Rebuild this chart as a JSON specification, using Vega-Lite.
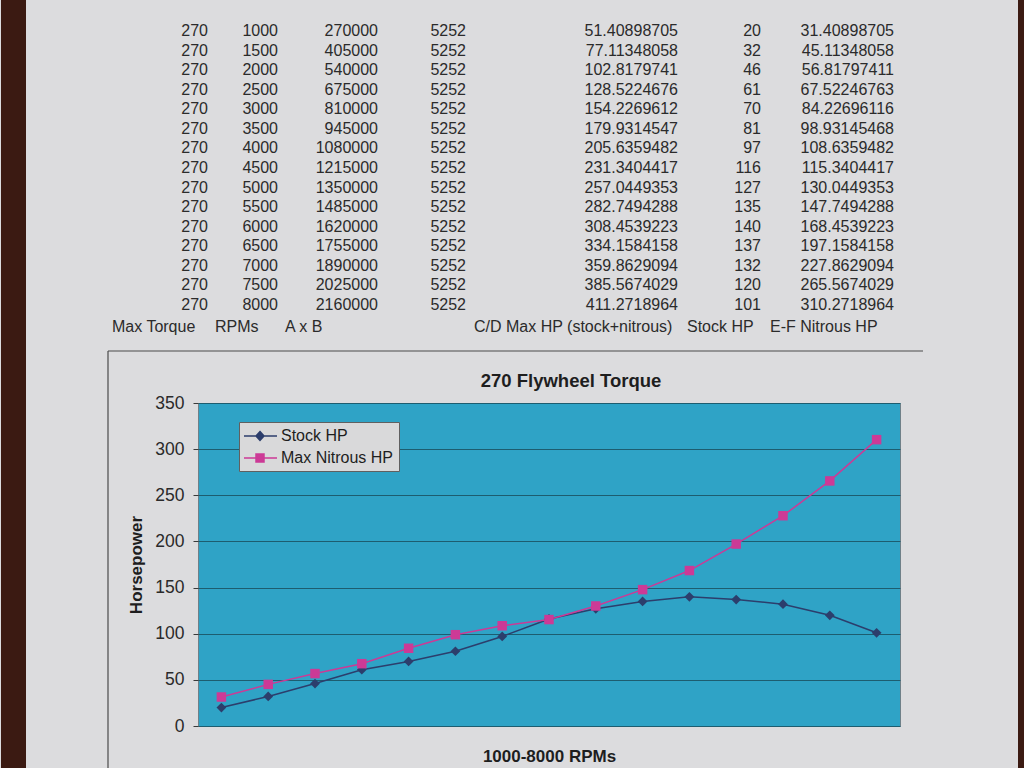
{
  "$schema": "https://vega.github.io/schema/vega-lite/v6.json",
  "background": "#dcdcde",
  "padding": 0,
  "autosize": {"type": "pad"},
  "bounds": "flush",
  "spacing": 52,
  "config": {"font": "Liberation Sans", "view": {"stroke": null}},
  "datasets": {
    "table": [
      {"torque": 270, "rpm": 1000, "axb": 270000, "constant": 5252, "maxhp": 51.40898705, "stock": 20, "nitrous": 31.40898705},
      {"torque": 270, "rpm": 1500, "axb": 405000, "constant": 5252, "maxhp": 77.11348058, "stock": 32, "nitrous": 45.11348058},
      {"torque": 270, "rpm": 2000, "axb": 540000, "constant": 5252, "maxhp": 102.8179741, "stock": 46, "nitrous": 56.81797411},
      {"torque": 270, "rpm": 2500, "axb": 675000, "constant": 5252, "maxhp": 128.5224676, "stock": 61, "nitrous": 67.52246763},
      {"torque": 270, "rpm": 3000, "axb": 810000, "constant": 5252, "maxhp": 154.2269612, "stock": 70, "nitrous": 84.22696116},
      {"torque": 270, "rpm": 3500, "axb": 945000, "constant": 5252, "maxhp": 179.9314547, "stock": 81, "nitrous": 98.93145468},
      {"torque": 270, "rpm": 4000, "axb": 1080000, "constant": 5252, "maxhp": 205.6359482, "stock": 97, "nitrous": 108.6359482},
      {"torque": 270, "rpm": 4500, "axb": 1215000, "constant": 5252, "maxhp": 231.3404417, "stock": 116, "nitrous": 115.3404417},
      {"torque": 270, "rpm": 5000, "axb": 1350000, "constant": 5252, "maxhp": 257.0449353, "stock": 127, "nitrous": 130.0449353},
      {"torque": 270, "rpm": 5500, "axb": 1485000, "constant": 5252, "maxhp": 282.7494288, "stock": 135, "nitrous": 147.7494288},
      {"torque": 270, "rpm": 6000, "axb": 1620000, "constant": 5252, "maxhp": 308.4539223, "stock": 140, "nitrous": 168.4539223},
      {"torque": 270, "rpm": 6500, "axb": 1755000, "constant": 5252, "maxhp": 334.1584158, "stock": 137, "nitrous": 197.1584158},
      {"torque": 270, "rpm": 7000, "axb": 1890000, "constant": 5252, "maxhp": 359.8629094, "stock": 132, "nitrous": 227.8629094},
      {"torque": 270, "rpm": 7500, "axb": 2025000, "constant": 5252, "maxhp": 385.5674029, "stock": 120, "nitrous": 265.5674029},
      {"torque": 270, "rpm": 8000, "axb": 2160000, "constant": 5252, "maxhp": 411.2718964, "stock": 101, "nitrous": 310.2718964}
    ]
  },
  "vconcat": [
    {
      "width": 702,
      "height": 351,
      "view": {"stroke": null},
      "layer": [
        {"data": {"values": [{}]}, "mark": {"type": "rect", "color": "#3b1a12"},
         "encoding": {"x": {"datum": -197, "type": "quantitative", "scale": {"domain": [0, 702], "nice": false, "zero": false}, "axis": null}, "x2": {"datum": -172},
                      "y": {"datum": 208, "type": "quantitative", "scale": {"domain": [208, 9175], "nice": false, "zero": false, "reverse": true}, "axis": null}, "y2": {"datum": 19828}}},
        {"data": {"values": [{}]}, "mark": {"type": "rect", "color": "#3b1a12"},
         "encoding": {"x": {"datum": 820, "type": "quantitative", "scale": {"domain": [0, 702], "nice": false, "zero": false}, "axis": null}, "x2": {"datum": 827},
                      "y": {"datum": 208, "type": "quantitative", "scale": {"domain": [208, 9175], "nice": false, "zero": false, "reverse": true}, "axis": null}, "y2": {"datum": 19828}}},
        {"data": {"values": [{}]}, "mark": {"type": "rule", "color": "#4a4a4a", "strokeWidth": 1.2},
         "encoding": {"x": {"datum": -90, "type": "quantitative", "scale": {"domain": [0, 702], "nice": false, "zero": false}, "axis": null}, "x2": {"datum": 725},
                      "y": {"datum": 9175, "type": "quantitative", "scale": {"domain": [208, 9175], "nice": false, "zero": false, "reverse": true}, "axis": null}}},
        {"data": {"values": [{}]}, "mark": {"type": "rule", "color": "#4a4a4a", "strokeWidth": 1.2},
         "encoding": {"x": {"datum": -90, "type": "quantitative", "scale": {"domain": [0, 702], "nice": false, "zero": false}, "axis": null},
                      "y": {"datum": 9175, "type": "quantitative", "scale": {"domain": [208, 9175], "nice": false, "zero": false, "reverse": true}, "axis": null}, "y2": {"datum": 19828}}},
        {"data": {"name": "table"}, "mark": {"type": "text", "align": "right", "baseline": "middle", "fontSize": 16, "color": "#2b2b2b"},
         "encoding": {"x": {"datum": 10, "type": "quantitative", "scale": {"domain": [0, 702], "nice": false, "zero": false}, "axis": null},
                      "y": {"field": "rpm", "type": "quantitative", "scale": {"domain": [208, 9175], "nice": false, "zero": false, "reverse": true}, "axis": null},
                      "text": {"field": "torque", "type": "quantitative", "format": ".10~r"}}},
        {"data": {"name": "table"}, "mark": {"type": "text", "align": "right", "baseline": "middle", "fontSize": 16, "color": "#2b2b2b"},
         "encoding": {"x": {"datum": 80, "type": "quantitative", "scale": {"domain": [0, 702], "nice": false, "zero": false}, "axis": null},
                      "y": {"field": "rpm", "type": "quantitative", "scale": {"domain": [208, 9175], "nice": false, "zero": false, "reverse": true}, "axis": null},
                      "text": {"field": "rpm", "type": "quantitative", "format": ".10~r"}}},
        {"data": {"name": "table"}, "mark": {"type": "text", "align": "right", "baseline": "middle", "fontSize": 16, "color": "#2b2b2b"},
         "encoding": {"x": {"datum": 180, "type": "quantitative", "scale": {"domain": [0, 702], "nice": false, "zero": false}, "axis": null},
                      "y": {"field": "rpm", "type": "quantitative", "scale": {"domain": [208, 9175], "nice": false, "zero": false, "reverse": true}, "axis": null},
                      "text": {"field": "axb", "type": "quantitative", "format": ".10~r"}}},
        {"data": {"name": "table"}, "mark": {"type": "text", "align": "right", "baseline": "middle", "fontSize": 16, "color": "#2b2b2b"},
         "encoding": {"x": {"datum": 268, "type": "quantitative", "scale": {"domain": [0, 702], "nice": false, "zero": false}, "axis": null},
                      "y": {"field": "rpm", "type": "quantitative", "scale": {"domain": [208, 9175], "nice": false, "zero": false, "reverse": true}, "axis": null},
                      "text": {"field": "constant", "type": "quantitative", "format": ".10~r"}}},
        {"data": {"name": "table"}, "mark": {"type": "text", "align": "right", "baseline": "middle", "fontSize": 16, "color": "#2b2b2b"},
         "encoding": {"x": {"datum": 480, "type": "quantitative", "scale": {"domain": [0, 702], "nice": false, "zero": false}, "axis": null},
                      "y": {"field": "rpm", "type": "quantitative", "scale": {"domain": [208, 9175], "nice": false, "zero": false, "reverse": true}, "axis": null},
                      "text": {"field": "maxhp", "type": "quantitative", "format": ".10~r"}}},
        {"data": {"name": "table"}, "mark": {"type": "text", "align": "right", "baseline": "middle", "fontSize": 16, "color": "#2b2b2b"},
         "encoding": {"x": {"datum": 563, "type": "quantitative", "scale": {"domain": [0, 702], "nice": false, "zero": false}, "axis": null},
                      "y": {"field": "rpm", "type": "quantitative", "scale": {"domain": [208, 9175], "nice": false, "zero": false, "reverse": true}, "axis": null},
                      "text": {"field": "stock", "type": "quantitative", "format": ".10~r"}}},
        {"data": {"name": "table"}, "mark": {"type": "text", "align": "right", "baseline": "middle", "fontSize": 16, "color": "#2b2b2b"},
         "encoding": {"x": {"datum": 696, "type": "quantitative", "scale": {"domain": [0, 702], "nice": false, "zero": false}, "axis": null},
                      "y": {"field": "rpm", "type": "quantitative", "scale": {"domain": [208, 9175], "nice": false, "zero": false, "reverse": true}, "axis": null},
                      "text": {"field": "nitrous", "type": "quantitative", "format": ".10~r"}}},
        {"data": {"values": [{}]}, "mark": {"type": "text", "align": "left", "baseline": "middle", "fontSize": 16, "color": "#2b2b2b", "text": "Max Torque"},
         "encoding": {"x": {"datum": -86, "type": "quantitative", "scale": {"domain": [0, 702], "nice": false, "zero": false}, "axis": null},
                      "y": {"datum": 8562, "type": "quantitative", "scale": {"domain": [208, 9175], "nice": false, "zero": false, "reverse": true}, "axis": null}}},
        {"data": {"values": [{}]}, "mark": {"type": "text", "align": "left", "baseline": "middle", "fontSize": 16, "color": "#2b2b2b", "text": "RPMs"},
         "encoding": {"x": {"datum": 17, "type": "quantitative", "scale": {"domain": [0, 702], "nice": false, "zero": false}, "axis": null},
                      "y": {"datum": 8562, "type": "quantitative", "scale": {"domain": [208, 9175], "nice": false, "zero": false, "reverse": true}, "axis": null}}},
        {"data": {"values": [{}]}, "mark": {"type": "text", "align": "left", "baseline": "middle", "fontSize": 16, "color": "#2b2b2b", "text": "A x B"},
         "encoding": {"x": {"datum": 87, "type": "quantitative", "scale": {"domain": [0, 702], "nice": false, "zero": false}, "axis": null},
                      "y": {"datum": 8562, "type": "quantitative", "scale": {"domain": [208, 9175], "nice": false, "zero": false, "reverse": true}, "axis": null}}},
        {"data": {"values": [{}]}, "mark": {"type": "text", "align": "left", "baseline": "middle", "fontSize": 16, "color": "#2b2b2b", "text": "C/D Max HP (stock+nitrous)"},
         "encoding": {"x": {"datum": 276, "type": "quantitative", "scale": {"domain": [0, 702], "nice": false, "zero": false}, "axis": null},
                      "y": {"datum": 8562, "type": "quantitative", "scale": {"domain": [208, 9175], "nice": false, "zero": false, "reverse": true}, "axis": null}}},
        {"data": {"values": [{}]}, "mark": {"type": "text", "align": "left", "baseline": "middle", "fontSize": 16, "color": "#2b2b2b", "text": "Stock HP"},
         "encoding": {"x": {"datum": 489, "type": "quantitative", "scale": {"domain": [0, 702], "nice": false, "zero": false}, "axis": null},
                      "y": {"datum": 8562, "type": "quantitative", "scale": {"domain": [208, 9175], "nice": false, "zero": false, "reverse": true}, "axis": null}}},
        {"data": {"values": [{}]}, "mark": {"type": "text", "align": "left", "baseline": "middle", "fontSize": 16, "color": "#2b2b2b", "text": "E-F Nitrous HP"},
         "encoding": {"x": {"datum": 572, "type": "quantitative", "scale": {"domain": [0, 702], "nice": false, "zero": false}, "axis": null},
                      "y": {"datum": 8562, "type": "quantitative", "scale": {"domain": [208, 9175], "nice": false, "zero": false, "reverse": true}, "axis": null}}}
      ]
    },
    {
      "width": 702,
      "height": 323,
      "view": {"fill": "#2fa3c6", "stroke": "#6f8088", "strokeWidth": 1},
      "title": {"text": "270 Flywheel Torque", "fontSize": 18.5, "fontWeight": "bold", "color": "#1e1e1e", "offset": 4, "dx": 22, "anchor": "middle", "font": "Liberation Sans"},
      "data": {"name": "table"},
      "transform": [{"fold": ["stock", "nitrous"], "as": ["series", "hp"]}],
      "encoding": {
        "x": {"field": "rpm", "type": "ordinal", "scale": {"type": "point", "padding": 0.5},
              "axis": {"labels": false, "ticks": false, "domain": false, "grid": false, "title": "1000-8000 RPMs", "titleFontSize": 17, "titleFontWeight": "bold", "titleColor": "#1e1e1e", "titlePadding": 22}},
        "y": {"field": "hp", "type": "quantitative", "scale": {"domain": [0, 350], "nice": false},
              "axis": {"values": [0, 50, 100, 150, 200, 250, 300, 350], "grid": true, "gridColor": "#1d5d70", "gridWidth": 1, "domain": false, "ticks": true, "tickSize": 5, "tickColor": "#3a3a3a", "labelFontSize": 17.5, "labelColor": "#2a2a2a", "labelPadding": 9, "title": "Horsepower", "titleFontSize": 17, "titleFontWeight": "bold", "titleColor": "#1e1e1e", "titlePadding": 9}},
        "color": {"field": "series", "type": "nominal", "scale": {"domain": ["stock", "nitrous"], "range": ["#2c3e6c", "#cc3a96"]},
                  "legend": {"orient": "none", "legendX": 41, "legendY": 422, "title": null, "fillColor": "#d9d9da", "strokeColor": "#606060", "padding": 5, "labelFontSize": 16, "labelColor": "#1e1e1e", "labelFont": "Liberation Sans", "labelOffset": 19, "rowPadding": 5,
                             "labelExpr": "datum.value == 'stock' ? 'Stock HP' : 'Max Nitrous HP'",
                             "symbolSize": 256, "symbolStrokeWidth": 1.5, "symbolOpacity": 1}}
      },
      "layer": [
        {"mark": {"type": "line", "strokeWidth": 1.5}},
        {"transform": [{"filter": "datum.series == 'stock'"}], "mark": {"type": "point", "shape": "diamond", "filled": true, "size": 95, "opacity": 1}},
        {"transform": [{"filter": "datum.series == 'nitrous'"}], "mark": {"type": "point", "shape": "square", "filled": true, "size": 90, "opacity": 1}},
        {"transform": [{"filter": "false"}], "mark": {"type": "point", "filled": true, "opacity": 1},
         "encoding": {"shape": {"field": "series", "type": "nominal",
                                "scale": {"domain": ["stock", "nitrous"], "range": ["M-1.125,0H3M0.875,-0.56L1.375,0L0.875,0.56L0.375,0Z", "M-1.125,0H3M0.375,-0.5H1.375V0.5H0.375Z"]},
                                "legend": {"orient": "none", "legendX": 41, "legendY": 422, "title": null}}}}
      ]
    }
  ]
}
